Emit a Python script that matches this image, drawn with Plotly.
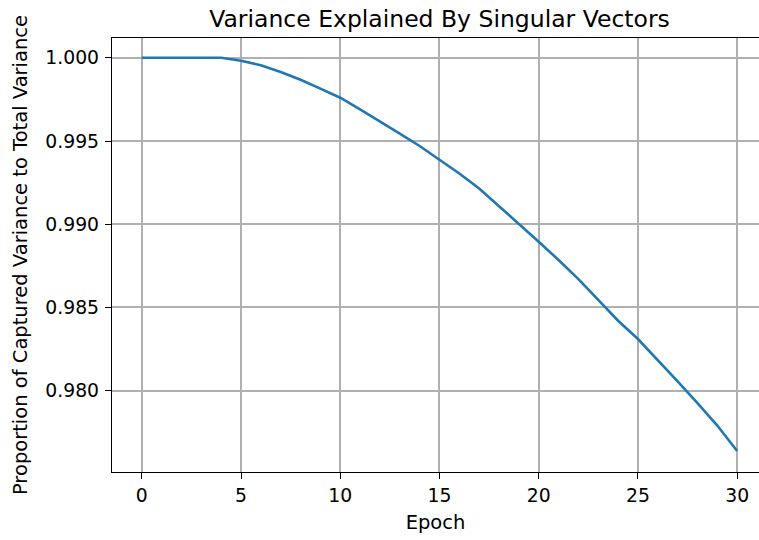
import plotly.graph_objects as go

epochs = list(range(31))
variance_ratio = [
    1.00000, 1.00000, 0.99997, 0.99998, 1.00000, 0.99982, 0.99955, 0.99915,
    0.99868, 0.99815, 0.99760, 0.99690, 0.99620, 0.99545, 0.99470, 0.99390,
    0.99305, 0.99215, 0.99110, 0.99005, 0.98895, 0.98785, 0.98670, 0.98545,
    0.98420, 0.98310, 0.98185, 0.98055, 0.97925, 0.97790, 0.97637,
]

FONT = "DejaVu Sans"

fig = go.Figure()
fig.add_trace(go.Scatter(
    x=epochs, y=variance_ratio, mode="lines",
    line=dict(color="#1f77b4", width=2.6),
    showlegend=False,
))

fig.update_layout(
    width=759, height=540,
    paper_bgcolor="white", plot_bgcolor="white",
    margin=dict(l=112, r=0, t=38, b=68, autoexpand=False),
    font=dict(family=FONT, size=18.8, color="black"),
    title=dict(text="Variance Explained By Singular Vectors",
               x=(112 + 767) / 2 / 759, xanchor="center",
               y=1 - 19 / 540, yanchor="middle",
               font=dict(size=23.5, family=FONT, color="black")),
)

fig.update_xaxes(
    range=[-1.5, 31.1], tickmode="linear", tick0=0, dtick=5,
    showgrid=True, gridcolor="#b0b0b0", gridwidth=1.6,
    showline=True, linecolor="black", linewidth=1.3, mirror=True,
    ticks="outside", ticklen=6, tickwidth=1.3, tickcolor="black",
    zeroline=False, automargin=False,
    title=dict(text="Epoch", font=dict(size=19.5, family=FONT), standoff=10),
)
fig.update_yaxes(
    range=[0.97511, 1.00119], tickmode="linear", tick0=0.98, dtick=0.005,
    tickformat=".3f", ticklabelstandoff=2,
    showgrid=True, gridcolor="#b0b0b0", gridwidth=1.6,
    showline=True, linecolor="black", linewidth=1.3, mirror=False,
    ticks="outside", ticklen=6, tickwidth=1.3, tickcolor="black",
    zeroline=False, automargin=False,
    title=dict(text="Proportion of Captured Variance to Total Variance",
               font=dict(size=19.5, family=FONT), standoff=12),
)

fig.write_html(
    "out.html",
    config={"displayModeBar": False},
    post_script="document.body.style.margin='0';document.body.style.padding='0';"
)
